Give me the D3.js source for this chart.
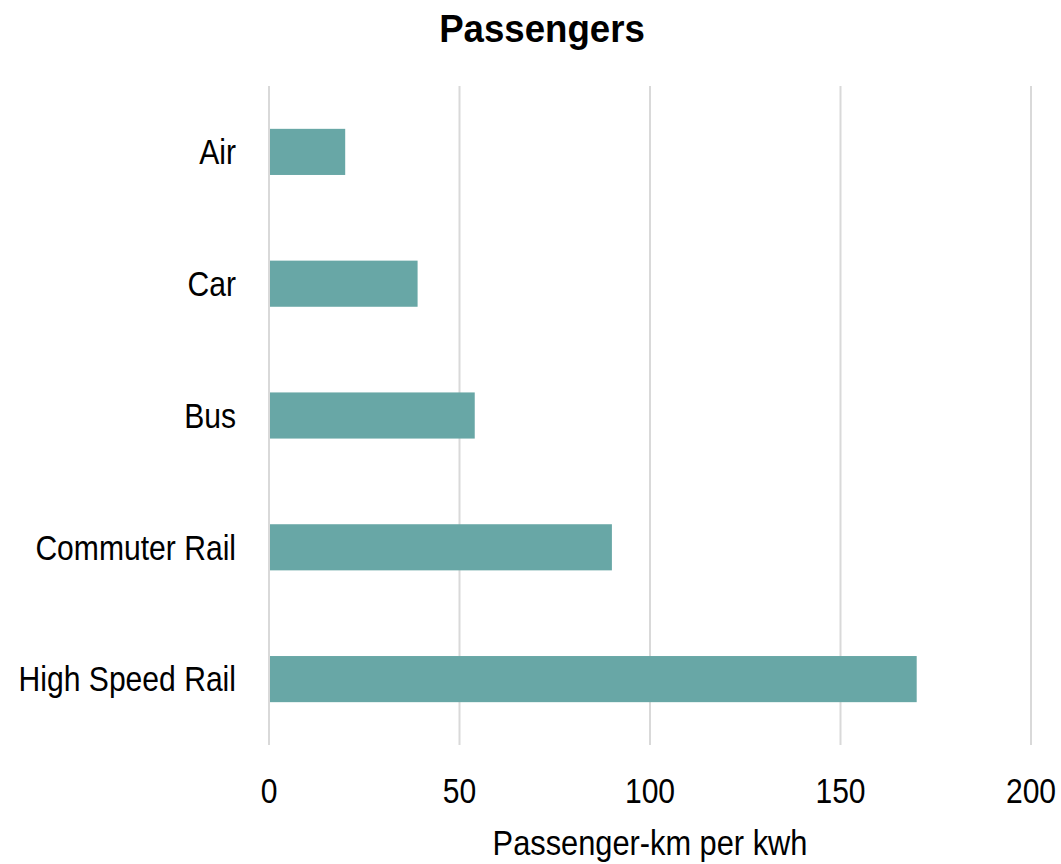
<!DOCTYPE html>
<html>
<head>
<meta charset="utf-8">
<script src="https://cdn.jsdelivr.net/npm/d3@7"></script>
<style>
  html, body { margin: 0; padding: 0; background: #fff; }
  svg text { font-family: "Liberation Sans Narrow", "Arial Narrow", "Liberation Sans", Arial, sans-serif; fill: #000; }
</style>
</head>
<body>
<svg id="chart" width="1061" height="864"></svg>
<script>
// Energy efficiency by transport mode
const modes = ["Air", "Car", "Bus", "Commuter Rail", "High Speed Rail"];
const passengerKmPerKwh = [20, 39, 54, 90, 170];
const xTicks = [0, 50, 100, 150, 200];

const svg = d3.select("#chart");
const margin = { left: 269, right: 30, top: 86, bottom: 119 };
const width = 1061, height = 864;
const squeeze = 0.86; // condensed look for the regular text

const x = d3.scaleLinear().domain([0, 200]).range([margin.left, 1031]);
const y = d3.scaleBand().domain(modes)
  .range([margin.top, height - margin.bottom])
  .paddingInner(0.65).paddingOuter(0.325);

// places a horizontally condensed text at (px, py)
function label(parent, px, py, txt, opts) {
  const g = parent.append("g")
    .attr("transform", `translate(${px},${py}) scale(${opts.sx || squeeze},1)`);
  return g.append("text")
    .attr("text-anchor", opts.anchor || "middle")
    .attr("dy", opts.dy || null)
    .attr("font-size", opts.size || 35)
    .attr("font-weight", opts.weight || null)
    .text(txt);
}

// vertical gridlines
svg.append("g").selectAll("line").data(xTicks).join("line")
  .attr("x1", d => x(d)).attr("x2", d => x(d))
  .attr("y1", margin.top).attr("y2", height - margin.bottom)
  .attr("stroke", "#d9d9d9").attr("stroke-width", 2);

// bars
svg.append("g").selectAll("rect").data(modes).join("rect")
  .attr("x", x(0) + 1)
  .attr("y", d => y(d))
  .attr("width", (d, i) => x(passengerKmPerKwh[i]) - x(0) - 1)
  .attr("height", y.bandwidth())
  .attr("fill", "#68a7a6");

// category labels
const catG = svg.append("g");
modes.forEach(m => label(catG, 236, y(m) + y.bandwidth() / 2, m, { anchor: "end", dy: "0.35em" }));

// x axis tick labels
const tickG = svg.append("g");
xTicks.forEach(t => label(tickG, x(t), 803, String(t), {}));

// axis title
label(svg, 650, 855, "Passenger-km per kwh", { sx: 0.88 });

// chart title
label(svg, 542, 42, "Passengers", { size: 39, weight: "bold", sx: 0.94 });
</script>
</body>
</html>
